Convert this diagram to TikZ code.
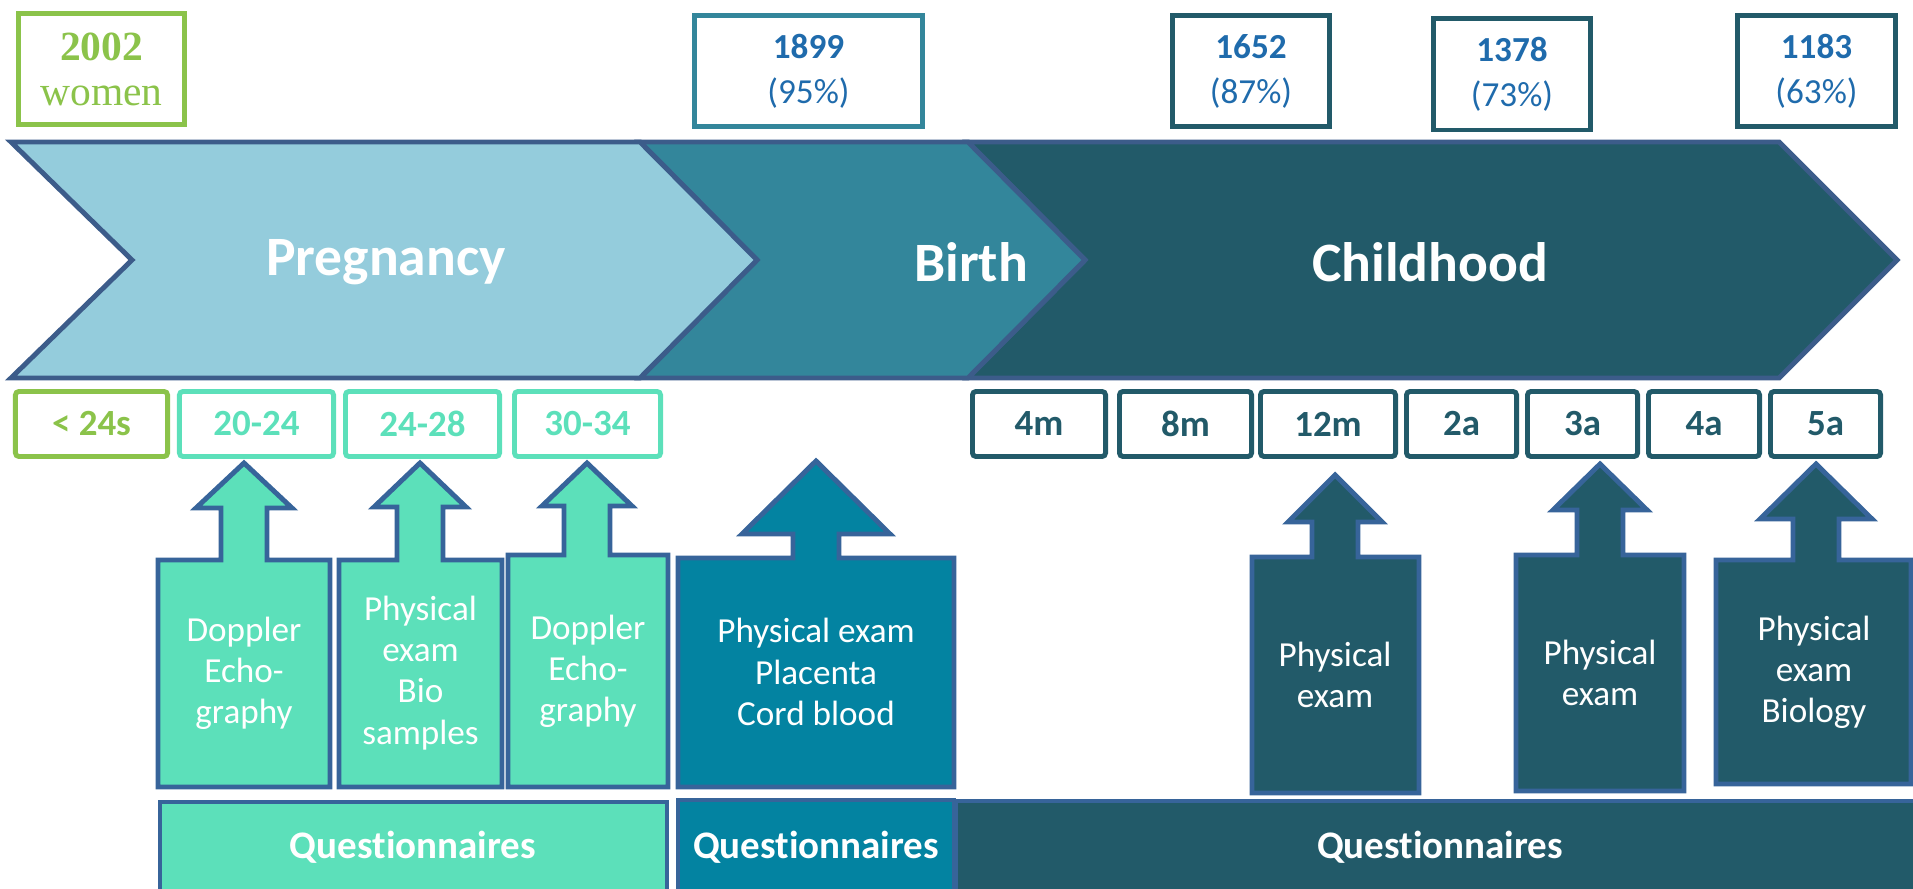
\documentclass[tikz,border=0pt]{standalone}
\usepackage{fontspec}
\setmainfont{Carlito}[Ligatures=NoCommon]
\newfontfamily\countserif{Liberation Serif}
\definecolor{grn}{HTML}{8BC34A}
\definecolor{mint}{HTML}{5CE0BA}
\definecolor{pregC}{HTML}{94CCDC}
\definecolor{birthC}{HTML}{33869B}
\definecolor{birthbox}{HTML}{0383A1}
\definecolor{child}{HTML}{225A69}
\definecolor{chevedge}{HTML}{3C5C8A}
\definecolor{examedge}{HTML}{37649A}
\definecolor{numblue}{HTML}{1F6BAC}
\tikzset{
  stage/.style={draw=chevedge, line width=1.4pt, line join=miter},
  stagelabel/.style={text=white, font=\fontsize{15.8}{18}\selectfont\bfseries},
  countbox/.style={draw=#1, line width=1.4pt, fill=white, text=numblue, align=center, inner sep=0pt,
    minimum height=1.11cm, font=\fontsize{10}{12.8}\selectfont},
  agebox/.style={draw=#1, text=#1, line width=1.4pt, rounded corners=1pt, inner sep=0pt,
    minimum height=0.65cm, font=\fontsize{10.5}{12}\selectfont\bfseries},
  examline/.style={draw=examedge, line width=1.4pt, line join=miter},
  examtext/.style={text=white, align=center, font=\fontsize{10}{11.7}\selectfont},
  questlabel/.style={text=white, font=\fontsize{11.1}{13}\selectfont\bfseries}
}
\newcommand{\exambox}[9]{%
  \draw[examline, fill=#1] (#2,#4) -- ({#6-23},#4) -- ({#6-23},#8) -- ({#6-#7},#8) -- (#6,#9)
    -- ({#6+#7},#8) -- ({#6+23},#8) -- ({#6+23},#4) -- (#3,#4) -- (#3,#5) -- (#2,#5) -- cycle;}
\begin{document}
\begin{tikzpicture}[x=0.01cm, y=-0.01cm]
  \useasboundingbox (0,0) rectangle (1913,889);
  \clip (0,0) rectangle (1913,889);
  \draw[stage, fill=child] (968,142) -- (1779,142) -- (1897,260) -- (1779,378) -- (968,378) -- (1085,260) -- cycle;
  \draw[stage, fill=birthC] (640,142) -- (968,142) -- (1085,260) -- (968,378) -- (640,378) -- (757,260) -- cycle;
  \draw[stage, fill=pregC] (11,142) -- (640,142) -- (757,260) -- (640,378) -- (11,378) -- (132,260) -- cycle;
  \node[stagelabel] (preg) at (386,262) {Pregnancy};
  \node[stagelabel] (birth) at (971,262) {Birth};
  \node[stagelabel] (childhood) at (1430,262) {Childhood};

  \node[countbox=grn, minimum width=1.66cm, text=grn, font=\countserif\fontsize{11.8}{12.8}\selectfont]
    (women) at (101.5,69) {\textbf{2002}\\women};
  \node[countbox=birthC, minimum width=2.28cm] (n1899) at (808.5,71) {\textbf{1899}\\(95\%)};
  \node[countbox=child, minimum width=1.57cm] (n1652) at (1251,71) {\textbf{1652}\\(87\%)};
  \node[countbox=child, minimum width=1.57cm] (n1378) at (1512,74.5) {\textbf{1378}\\(73\%)};
  \node[countbox=child, minimum width=1.58cm] (n1183) at (1816.5,71) {\textbf{1183}\\(63\%)};

  \node[agebox=grn, minimum width=1.52cm] (w24) at (91.5,424) {< 24s};
  \foreach \name/\lab/\cx/\w in {w20/20-24/256.5/1.54, w24b/24-28/422.5/1.54, w30/30-34/587.5/1.46}
    \node[agebox=mint, minimum width=\w cm] (\name) at (\cx,424) {\lab};
  \foreach \lab/\cx/\w in {4m/1039/1.33, 8m/1185.5/1.32, 12m/1328/1.35, 2a/1461.5/1.10,
      3a/1582.5/1.10, 4a/1704/1.11, 5a/1825.5/1.10}
    \node[agebox=child, minimum width=\w cm] (age\lab) at (\cx,424) {\lab};

  \exambox{mint}{158}{330}{560}{787}{244}{48}{508}{463}
  \exambox{mint}{339}{502}{560}{787}{420}{46}{507}{463}
  \exambox{mint}{508}{668}{555}{787}{587}{45}{506}{463}
  \exambox{birthbox}{678}{954}{558}{787}{816}{74}{534}{461}
  \exambox{child}{1252}{1419}{557}{793}{1335}{47}{522}{475}
  \exambox{child}{1516}{1684}{555}{791}{1600}{47}{510}{464}
  \exambox{child}{1716}{1911}{560}{784}{1816}{56}{519}{464}
  \node[examtext] (exam1) at (244,673) {Doppler\\Echo-\\graphy};
  \node[examtext] (exam2) at (420.5,673) {Physical\\exam\\Bio\\samples};
  \node[examtext] (exam3) at (588,671) {Doppler\\Echo-\\graphy};
  \node[examtext] (exam4) at (816,672) {Physical exam\\Placenta\\Cord blood};
  \node[examtext] (exam5) at (1335,675) {Physical\\exam};
  \node[examtext] (exam6) at (1600,673) {Physical\\exam};
  \node[examtext] (exam7) at (1814,672) {Physical\\exam\\Biology};

  \draw[examline, fill=mint] (160,802) rectangle (667,905);
  \draw[examline, fill=birthbox] (678,800) rectangle (954,905);
  \draw[examline, fill=child] (956,801) rectangle (1925,905);
  \node[questlabel] (quest1) at (413,847) {Questionnaires};
  \node[questlabel] (quest2) at (816,847) {Questionnaires};
  \node[questlabel] (quest3) at (1440,847) {Questionnaires};
\end{tikzpicture}
\end{document}
